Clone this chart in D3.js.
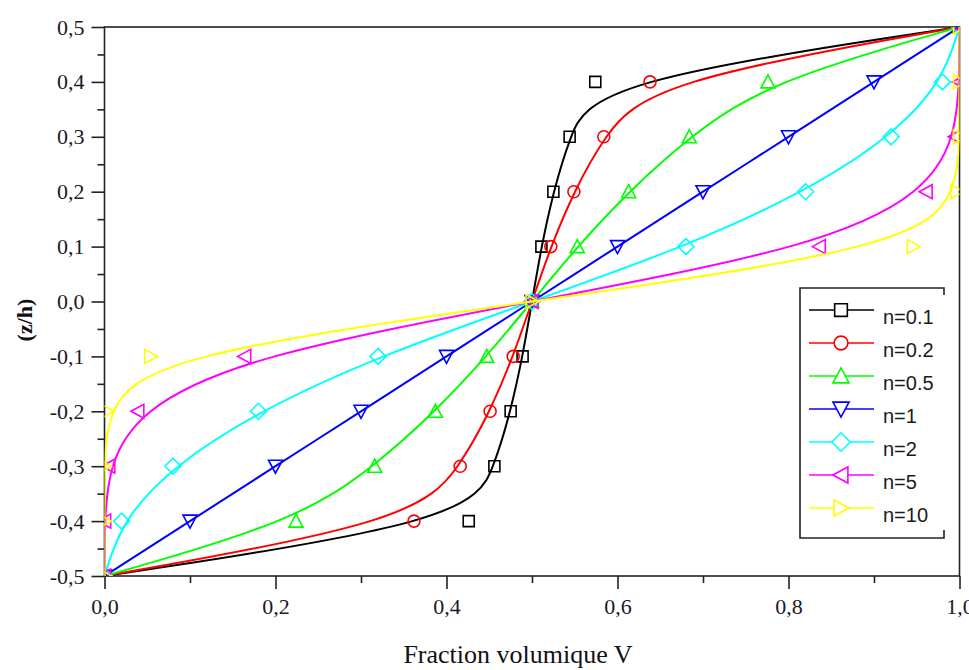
<!DOCTYPE html>
<html>
<head>
<meta charset="utf-8">
<script src="https://cdn.jsdelivr.net/npm/d3@7"></script>
<style>
  body { margin: 0; background: #fff; }
  svg { display: block; }
</style>
</head>
<body>
<script>
// z/h levels (y) shared by every series
const zLevels = [-0.5, -0.4, -0.3, -0.2, -0.1, 0.0, 0.1, 0.2, 0.3, 0.4, 0.5];

// volume fraction V, one array per exponent n
const vN01 = [0, 0.426, 0.456, 0.475, 0.489, 0.5, 0.511, 0.525, 0.544, 0.574, 1];
const vN02 = [0, 0.362, 0.416, 0.451, 0.478, 0.5, 0.522, 0.549, 0.584, 0.638, 1];
const vN05 = [0, 0.224, 0.316, 0.387, 0.447, 0.5, 0.553, 0.613, 0.684, 0.776, 1];
const vN1 = [0, 0.1, 0.2, 0.3, 0.4, 0.5, 0.6, 0.7, 0.8, 0.9, 1];
const vN2 = [0, 0.02, 0.08, 0.18, 0.32, 0.5, 0.68, 0.82, 0.92, 0.98, 1];
const vN5 = [0, 0.0002, 0.005, 0.039, 0.164, 0.5, 0.836, 0.961, 0.995, 0.9998, 1];
const vN10 = [0, 0, 0.0001, 0.003, 0.054, 0.5, 0.946, 0.997, 0.9999, 1, 1];

const seriesNames = ["n=0.1", "n=0.2", "n=0.5", "n=1", "n=2", "n=5", "n=10"];
const seriesValues = [vN01, vN02, vN05, vN1, vN2, vN5, vN10];
const seriesColors = ["#000000", "#ff0000", "#00ff00", "#0000ff", "#00ffff", "#ff00ff", "#ffff00"];
const seriesShapes = ["square", "circle", "up", "down", "diamond", "left", "right"];

const xTicks = [0, 0.2, 0.4, 0.6, 0.8, 1.0];
const xMinor = [0.1, 0.3, 0.5, 0.7, 0.9];
const yTicks = [-0.5, -0.4, -0.3, -0.2, -0.1, 0, 0.1, 0.2, 0.3, 0.4, 0.5];
const yMinor = [-0.45, -0.35, -0.25, -0.15, -0.05, 0.05, 0.15, 0.25, 0.35, 0.45];

const width = 969, height = 670;
const plotLeft = 104.5, plotRight = 959.5, plotTop = 27, plotBottom = 576;

const svg = d3.select("body").append("svg")
  .attr("width", width)
  .attr("height", height);

const x = d3.scaleLinear().domain([0, 1]).range([plotLeft, plotRight]);
const y = d3.scaleLinear().domain([-0.5, 0.5]).range([plotBottom, plotTop]);

const fmt = d => d3.format(".1f")(d).replace(".", ",").replace("−", "-");

// marker path, hollow, centred on 0,0
function shapePath(shape, s) {
  switch (shape) {
    case "square":
      return `M${-5.5*s},${-5.5*s}h${11*s}v${11*s}h${-11*s}Z`;
    case "circle":
      return `M${6*s},0A${6*s},${6*s} 0 1,1 ${-6*s},0A${6*s},${6*s} 0 1,1 ${6*s},0Z`;
    case "up":
      return `M0,${-7*s}L${7*s},${6*s}L${-7*s},${6*s}Z`;
    case "down":
      return `M0,${7*s}L${7*s},${-6*s}L${-7*s},${-6*s}Z`;
    case "diamond":
      return `M0,${-8*s}L${8*s},0L0,${8*s}L${-8*s},0Z`;
    case "left":
      return `M${-7*s},0L${6*s},${-7*s}L${6*s},${7*s}Z`;
    case "right":
      return `M${7*s},0L${-6*s},${-7*s}L${-6*s},${7*s}Z`;
  }
}

svg.append("defs").append("clipPath").attr("id", "plot-clip")
  .append("rect")
  .attr("x", plotLeft).attr("y", plotTop)
  .attr("width", plotRight - plotLeft).attr("height", plotBottom - plotTop);

// axes
const axisColor = "#222";
const tickFont = "'Liberation Serif', 'Times New Roman', serif";

svg.append("g")
  .attr("transform", `translate(${plotLeft},0)`)
  .call(d3.axisLeft(y).tickValues(yTicks).tickSize(13).tickPadding(7).tickFormat(fmt));
svg.append("g")
  .attr("transform", `translate(${plotLeft},0)`)
  .call(d3.axisLeft(y).tickValues(yMinor).tickSize(7).tickFormat(""));

svg.append("g")
  .attr("transform", `translate(0,${plotBottom})`)
  .call(d3.axisBottom(x).tickValues(xTicks).tickSize(13).tickPadding(9).tickFormat(fmt));
svg.append("g")
  .attr("transform", `translate(0,${plotBottom})`)
  .call(d3.axisBottom(x).tickValues(xMinor).tickSize(7).tickFormat(""));

svg.selectAll(".domain").remove();
svg.selectAll(".tick line").attr("stroke", axisColor).attr("stroke-width", 1.6);
svg.selectAll(".tick text")
  .attr("fill", "#1a1a2a")
  .style("font-family", tickFont)
  .style("font-size", "22px");

// frame
svg.append("rect")
  .attr("x", plotLeft).attr("y", plotTop)
  .attr("width", plotRight - plotLeft).attr("height", plotBottom - plotTop)
  .attr("fill", "none")
  .attr("stroke", axisColor)
  .attr("stroke-width", 1.6);

// axis titles
svg.append("text")
  .attr("x", 518).attr("y", 663)
  .attr("text-anchor", "middle")
  .style("font-family", tickFont)
  .style("font-size", "26px")
  .attr("fill", "#111")
  .text("Fraction volumique V");

svg.append("text")
  .attr("transform", "translate(32,320) rotate(-90)")
  .attr("text-anchor", "middle")
  .style("font-family", tickFont)
  .style("font-size", "22px")
  .style("font-weight", "bold")
  .attr("fill", "#111")
  .text("(z/h)");

// curves (B-spline through the points) and hollow markers
const line = d3.line()
  .x(d => x(d[0]))
  .y(d => y(d[1]))
  .curve(d3.curveBasis);

const plot = svg.append("g").attr("clip-path", "url(#plot-clip)");

seriesValues.forEach((vals, i) => {
  const pts = vals.map((v, k) => [v, zLevels[k]]);
  const g = plot.append("g");
  g.append("path")
    .datum(pts)
    .attr("d", line)
    .attr("fill", "none")
    .attr("stroke", seriesColors[i])
    .attr("stroke-width", 2);
  g.selectAll("path.marker")
    .data(pts)
    .join("path")
    .attr("class", "marker")
    .attr("transform", d => `translate(${x(d[0])},${y(d[1])})`)
    .attr("d", shapePath(seriesShapes[i], 1))
    .attr("fill", "none")
    .attr("stroke", seriesColors[i])
    .attr("stroke-width", 1.6);
});

// legend
const lgLeft = 800, lgTop = 288, lgRight = 944, lgBottom = 538;
const legend = svg.append("g");
legend.append("path")
  .attr("d", `M${lgRight},${lgTop + 7}V${lgTop}H${lgLeft}V${lgBottom}H${lgRight}V${lgBottom - 8}`)
  .attr("fill", "none")
  .attr("stroke", axisColor)
  .attr("stroke-width", 1.6);

const rowY = d3.scaleLinear().domain([0, seriesNames.length - 1]).range([310, 508]);

seriesNames.forEach((name, i) => {
  const cy = rowY(i);
  legend.append("line")
    .attr("x1", 809).attr("x2", 874)
    .attr("y1", cy).attr("y2", cy)
    .attr("stroke", seriesColors[i])
    .attr("stroke-width", 1.6);
  legend.append("path")
    .attr("transform", `translate(841,${cy})`)
    .attr("d", shapePath(seriesShapes[i], 1.15))
    .attr("fill", "#fff")
    .attr("stroke", seriesColors[i])
    .attr("stroke-width", 1.6);
  legend.append("text")
    .attr("x", 883).attr("y", cy + 14)
    .style("font-family", "'Liberation Sans', Arial, sans-serif")
    .style("font-size", "20px")
    .attr("fill", "#1a1a1a")
    .text(name);
});
</script>
</body>
</html>
